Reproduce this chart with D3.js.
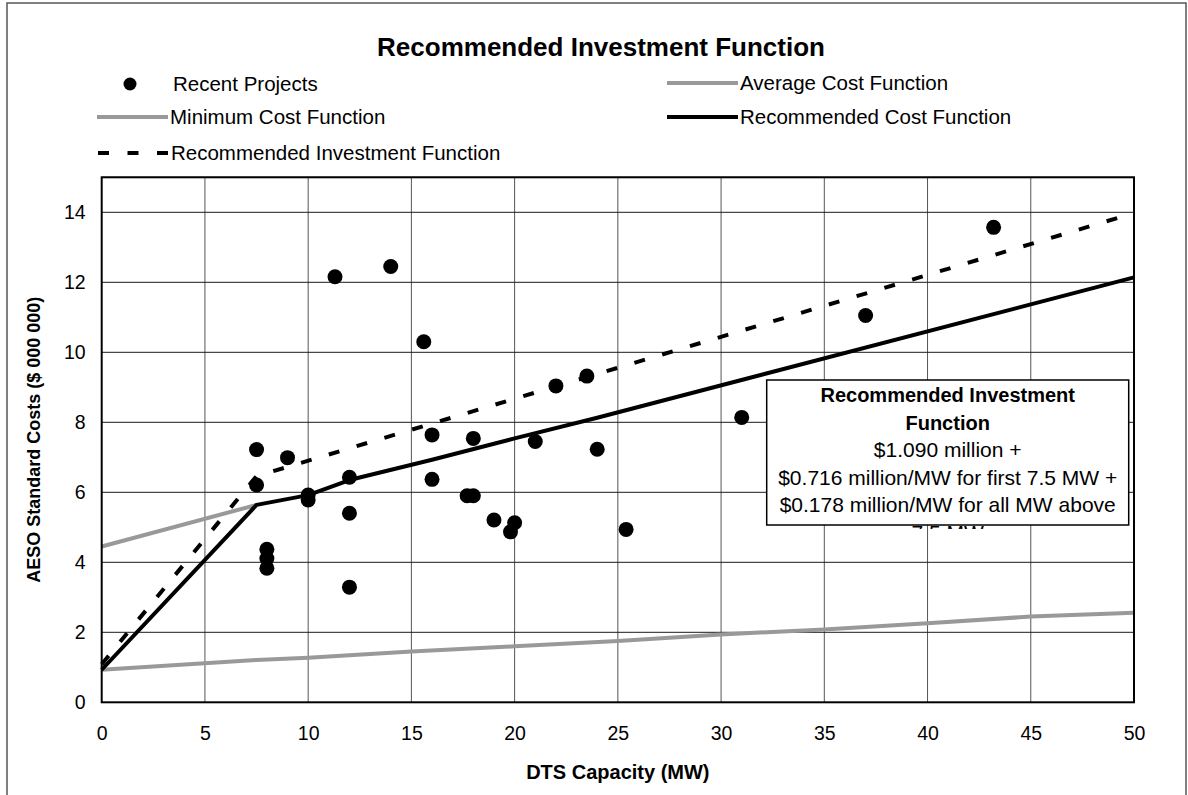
<!DOCTYPE html>
<html>
<head>
<meta charset="utf-8">
<script src="https://cdn.jsdelivr.net/npm/d3@7"></script>
<style>
	body { margin: 0; background: #fff; }
	text { font-family: 'Liberation Sans', Arial, sans-serif; }
</style>
</head>
<body>
<svg id="chart" width="1188" height="795"></svg>
<script>
// recent projects (scatter)
var project_mw   = [7.5, 7.5, 8, 8, 8, 9, 10, 10, 11.3, 12, 12, 12, 14, 15.6, 16, 16, 17.7, 18, 18, 19, 19.8, 20, 21, 22, 23.5, 24, 25.4, 31, 37, 43.2];
var project_cost = [7.22, 6.21, 4.37, 4.11, 3.83, 6.99, 5.92, 5.78, 12.16, 6.43, 5.40, 3.29, 12.45, 10.30, 7.64, 6.37, 5.90, 5.90, 7.54, 5.21, 4.87, 5.13, 7.45, 9.04, 9.32, 7.23, 4.94, 8.14, 11.05, 13.57];

// cost functions, [MW, $M] vertices
var average_cost     = [[0, 4.45], [7.5, 5.64]];
var minimum_cost     = [[0, 0.93], [7.5, 1.21], [10, 1.27], [15, 1.45], [20, 1.6], [25, 1.75], [30, 1.94], [35, 2.08], [40, 2.26], [45, 2.45], [50, 2.56]];
var recommended_cost = [[0, 0.93], [7.5, 5.64], [10, 5.92], [12, 6.35], [16, 6.93], [20, 7.54], [24, 8.13], [50, 12.14]];
var recommended_inv  = [[0, 1.09], [7.5, 6.46], [50, 13.98]];

var x_ticks = [0, 5, 10, 15, 20, 25, 30, 35, 40, 45, 50];
var y_ticks = [0, 2, 4, 6, 8, 10, 12, 14];

var chart_title = 'Recommended Investment Function';
var x_title = 'DTS Capacity (MW)';
var y_title = 'AESO Standard Costs ($ 000 000)';
var box_lines = [
	['Recommended Investment', true],
	['Function', true],
	['$1.090 million +', false],
	['$0.716 million/MW for first 7.5 MW +', false],
	['$0.178 million/MW for all MW above', false],
	['7.5 MW', false]
];

var gray = '#999999';
var svg = d3.select('#chart');

// outer frame
svg.append('rect').attr('x', 7).attr('y', 3).attr('width', 1179).attr('height', 820)
	.attr('fill', 'none').attr('stroke', '#555').attr('stroke-width', 1.5);

var p_left = 101.7, p_right = 1134, p_top = 177.3, p_bottom = 702.3;
var x_scale = d3.scaleLinear().domain([0, 50]).range([p_left, p_right]);
var y_scale = d3.scaleLinear().domain([0, 15]).range([p_bottom, p_top]);

// grid
svg.append('g').selectAll('line').data(x_ticks.slice(1, -1)).enter().append('line')
	.attr('x1', d => x_scale(d)).attr('x2', d => x_scale(d))
	.attr('y1', p_top).attr('y2', p_bottom)
	.attr('stroke', '#555').attr('stroke-width', 1);
svg.append('g').selectAll('line').data(y_ticks.slice(1).concat([15])).enter().append('line')
	.attr('x1', p_left).attr('x2', p_right)
	.attr('y1', d => y_scale(d)).attr('y2', d => y_scale(d))
	.attr('stroke', '#1a1a1a').attr('stroke-width', 1);

// axes (labels only, frame drawn below)
var x_axis = svg.append('g').attr('transform', 'translate(0,' + p_bottom + ')')
	.call(d3.axisBottom(x_scale).tickValues(x_ticks).tickSize(0).tickPadding(24));
var y_axis = svg.append('g').attr('transform', 'translate(' + p_left + ',0)')
	.call(d3.axisLeft(y_scale).tickValues(y_ticks).tickSize(0).tickPadding(16));
[x_axis, y_axis].forEach(function(ax) {
	ax.select('.domain').remove();
	ax.selectAll('text').attr('font-size', 19.5).attr('fill', '#000')
		.style('font-family', "'Liberation Sans', Arial, sans-serif");
});

// cost function lines
var line = d3.line().x(d => x_scale(d[0])).y(d => y_scale(d[1]));
svg.append('path').datum(minimum_cost).attr('d', line)
	.attr('fill', 'none').attr('stroke', gray).attr('stroke-width', 4);
svg.append('path').datum(average_cost).attr('d', line)
	.attr('fill', 'none').attr('stroke', gray).attr('stroke-width', 4);
svg.append('path').datum(recommended_cost).attr('d', line)
	.attr('fill', 'none').attr('stroke', '#000').attr('stroke-width', 4).attr('stroke-linejoin', 'round');
svg.append('path').datum(recommended_inv).attr('d', line)
	.attr('fill', 'none').attr('stroke', '#000').attr('stroke-width', 4).attr('stroke-dasharray', '11,18');

// recent projects
svg.append('g').selectAll('circle').data(project_mw).enter().append('circle')
	.attr('cx', d => x_scale(d)).attr('cy', (d, i) => y_scale(project_cost[i]))
	.attr('r', 7.5).attr('fill', '#000');

// plot border
svg.append('rect').attr('x', p_left).attr('y', p_top).attr('width', p_right - p_left).attr('height', p_bottom - p_top)
	.attr('fill', 'none').attr('stroke', '#000').attr('stroke-width', 2);

// title and axis titles
svg.append('text').attr('x', 601).attr('y', 56).attr('text-anchor', 'middle')
	.attr('font-size', 26).attr('font-weight', 'bold').text(chart_title);
svg.append('text').attr('x', (p_left + p_right) / 2).attr('y', 779).attr('text-anchor', 'middle')
	.attr('font-size', 20).attr('font-weight', 'bold').text(x_title);
svg.append('text').attr('transform', 'translate(40,' + (p_top + p_bottom) / 2 + ') rotate(-90)')
	.attr('text-anchor', 'middle').attr('font-size', 18).attr('font-weight', 'bold').text(y_title);

// legend
var legend = [
	{label: 'Recent Projects', kind: 'dot', x: 97, y: 84},
	{label: 'Average Cost Function', kind: 'gray', x: 667, y: 83},
	{label: 'Minimum Cost Function', kind: 'gray', x: 97, y: 117},
	{label: 'Recommended Cost Function', kind: 'black', x: 667, y: 117},
	{label: 'Recommended Investment Function', kind: 'dash', x: 98, y: 153}
];
legend.forEach(function(d) {
	var g = svg.append('g');
	if(d.kind == 'dot') {
		g.append('circle').attr('cx', 130).attr('cy', d.y).attr('r', 6.5).attr('fill', '#000');
		g.append('text').attr('x', 173).attr('y', d.y).attr('dy', '0.35em').attr('font-size', 20.5).text(d.label);
		return;
	}
	var ln = g.append('line').attr('x1', d.x).attr('x2', d.x + 71).attr('y1', d.y).attr('y2', d.y)
		.attr('stroke-width', 4).attr('stroke', d.kind == 'gray' ? gray : '#000');
	if(d.kind == 'dash')
		ln.attr('stroke-dasharray', '11,18.5');
	g.append('text').attr('x', d.x + 73).attr('y', d.y).attr('dy', '0.35em').attr('font-size', 20.5).text(d.label);
});

// annotation box
var bx = 766.7, by = 380, bw = 362, bh = 145;
svg.append('defs').append('clipPath').attr('id', 'boxclip')
	.append('rect').attr('x', bx).attr('y', by).attr('width', bw).attr('height', bh + 4);
svg.append('rect').attr('x', bx).attr('y', by).attr('width', bw).attr('height', bh)
	.attr('fill', '#fff').attr('stroke', '#000').attr('stroke-width', 1.5);
svg.append('g').attr('clip-path', 'url(#boxclip)')
	.selectAll('text').data(box_lines).enter().append('text')
	.attr('x', bx + bw / 2).attr('y', (d, i) => 395 + i * 27.5).attr('dy', '0.35em')
	.attr('text-anchor', 'middle').attr('font-size', d => d[1] ? 20 : 21)
	.attr('font-weight', d => d[1] ? 'bold' : 'normal')
	.text(d => d[0]);
</script>
</body>
</html>
